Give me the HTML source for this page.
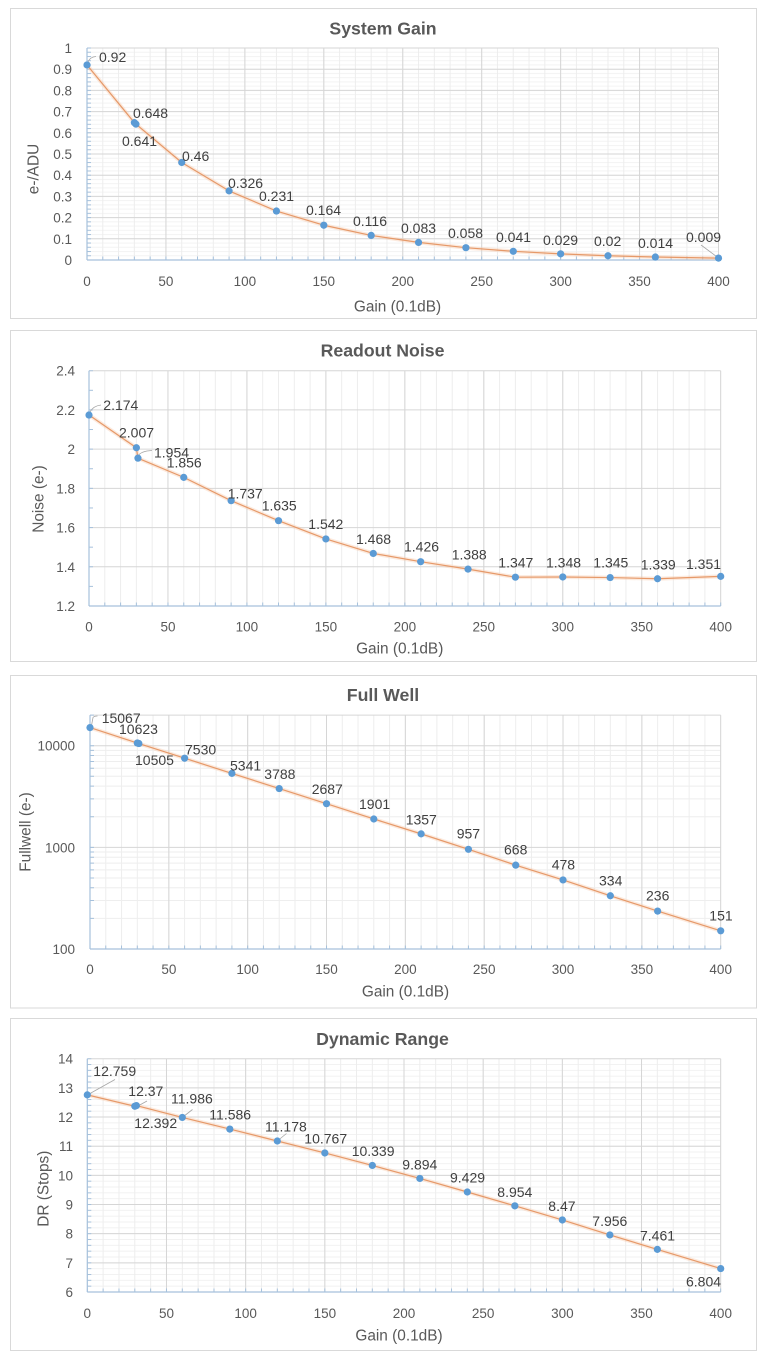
<!DOCTYPE html>
<html><head><meta charset="utf-8"><style>
html,body{margin:0;padding:0;background:#fff}
svg{display:block}
text{font-family:"Liberation Sans",Arial,sans-serif}
.t{font-size:17.7px;font-weight:bold;fill:#595959;text-anchor:middle}
.ax{font-size:15.4px;fill:#595959;text-anchor:middle}
.yk{font-size:13.5px;fill:#595959;text-anchor:end}
.xk{font-size:13.5px;fill:#595959;text-anchor:middle}
.dl{font-size:14px;fill:#404040}
.fr{fill:#fff;stroke:#d9d9d9;stroke-width:1}
.mj{stroke:#d6d6d6;stroke-width:1;fill:none}
.mn{stroke:#eeeeee;stroke-width:1;fill:none}
.axl{stroke:#a6c1dc;stroke-width:1.2;fill:none}
.ln{fill:none;stroke:#e3905c;stroke-width:1.2;stroke-opacity:.9;stroke-linejoin:round}
.lg{fill:none;stroke:#f8cbad;stroke-width:4;stroke-opacity:.4;stroke-linejoin:round}
.ld{stroke:#a6a6a6;stroke-width:.8;fill:none}
.mk circle{fill:#5b9bd5}
</style></head><body>
<svg width="768" height="1364" viewBox="0 0 768 1364" xmlns="http://www.w3.org/2000/svg">
<defs>
<pattern id="v1" patternUnits="userSpaceOnUse" x="86.5" y="0" width="15.7875" height="10"><rect width="1" height="10" fill="#ededed"/></pattern>
<pattern id="h1" patternUnits="userSpaceOnUse" x="0" y="47.5" width="10" height="4.24"><rect width="10" height="1" fill="#f3f3f3"/></pattern>
<pattern id="xt1" patternUnits="userSpaceOnUse" x="86.5" y="0" width="15.7875" height="10"><rect width="1" height="10" fill="#a6c1dc"/></pattern>
<pattern id="yt1" patternUnits="userSpaceOnUse" x="0" y="47.5" width="10" height="4.24"><rect width="10" height="1" fill="#a6c1dc"/></pattern>
<pattern id="v2" patternUnits="userSpaceOnUse" x="88.5" y="0" width="15.7925" height="10"><rect width="1" height="10" fill="#ededed"/></pattern>
<pattern id="xt2" patternUnits="userSpaceOnUse" x="88.5" y="0" width="15.7925" height="10"><rect width="1" height="10" fill="#a6c1dc"/></pattern>
<pattern id="yt2" patternUnits="userSpaceOnUse" x="0" y="370.2" width="10" height="19.608"><rect width="10" height="1" fill="#a6c1dc"/></pattern>
<pattern id="v3" patternUnits="userSpaceOnUse" x="89.5" y="0" width="15.7675" height="10"><rect width="1" height="10" fill="#ededed"/></pattern>
<pattern id="xt3" patternUnits="userSpaceOnUse" x="89.5" y="0" width="15.7675" height="10"><rect width="1" height="10" fill="#a6c1dc"/></pattern>
<pattern id="v4" patternUnits="userSpaceOnUse" x="86.8" y="0" width="15.835" height="10"><rect width="1" height="10" fill="#ededed"/></pattern>
<pattern id="h4" patternUnits="userSpaceOnUse" x="0" y="1058.2" width="10" height="5.8325"><rect width="10" height="1" fill="#f2f2f2"/></pattern>
<pattern id="xt4" patternUnits="userSpaceOnUse" x="86.8" y="0" width="15.835" height="10"><rect width="1" height="10" fill="#a6c1dc"/></pattern>
<pattern id="yt4" patternUnits="userSpaceOnUse" x="0" y="1058.2" width="10" height="5.8325"><rect width="10" height="1" fill="#a6c1dc"/></pattern>
</defs>

<!-- ================= CHART 1 ================= -->
<rect class="fr" x="10.5" y="8.5" width="746" height="310"/>
<text class="t" x="383" y="34.5">System Gain</text>
<rect x="87" y="48" width="631.5" height="212" fill="url(#h1)"/>
<rect x="87" y="48" width="631.5" height="212" fill="url(#v1)"/>
<path class="mj" d="M87 48H718.5M87 69.2H718.5M87 90.4H718.5M87 111.6H718.5M87 132.8H718.5M87 154H718.5M87 175.2H718.5M87 196.4H718.5M87 217.6H718.5M87 238.8H718.5
M165.94 48V260M244.88 48V260M323.81 48V260M402.75 48V260M481.69 48V260M560.63 48V260M639.56 48V260M718.5 48V260"/>
<rect x="86.5" y="256.5" width="633" height="3.5" fill="url(#xt1)"/>
<rect x="87" y="47.5" width="4" height="213" fill="url(#yt1)"/>
<path class="axl" d="M87 260H718.5M87 48V260"/>
<g class="yk">
<text x="72" y="265">0</text><text x="72" y="243.8">0.1</text><text x="72" y="222.6">0.2</text><text x="72" y="201.4">0.3</text><text x="72" y="180.2">0.4</text><text x="72" y="159">0.5</text><text x="72" y="137.8">0.6</text><text x="72" y="116.6">0.7</text><text x="72" y="95.4">0.8</text><text x="72" y="74.2">0.9</text><text x="72" y="53">1</text>
</g>
<g class="xk">
<text x="87" y="286">0</text><text x="165.94" y="286">50</text><text x="244.88" y="286">100</text><text x="323.81" y="286">150</text><text x="402.75" y="286">200</text><text x="481.69" y="286">250</text><text x="560.63" y="286">300</text><text x="639.56" y="286">350</text><text x="718.5" y="286">400</text>
</g>
<text class="ax" x="397.5" y="311.5">Gain (0.1dB)</text>
<text class="ax" transform="translate(38.5,169) rotate(-90)">e-/ADU</text>
<polyline class="lg" points="87,64.96 134.36,122.62 135.94,124.11 181.73,162.48 229.09,190.89 276.45,211.03 323.81,225.23 371.18,235.41 418.54,242.4 465.9,247.7 513.26,251.31 560.63,253.85 607.99,255.76 655.35,257.03 718.5,258.09"/>
<polyline class="ln" points="87,64.96 134.36,122.62 135.94,124.11 181.73,162.48 229.09,190.89 276.45,211.03 323.81,225.23 371.18,235.41 418.54,242.4 465.9,247.7 513.26,251.31 560.63,253.85 607.99,255.76 655.35,257.03 718.5,258.09"/>
<path class="ld" d="M88 62Q90 57 96 56.5M716.5 256.5L701 245"/>
<g class="mk">
<circle cx="87" cy="64.96" r="3.6"/><circle cx="134.36" cy="122.62" r="3.6"/><circle cx="135.94" cy="124.11" r="3.6"/><circle cx="181.73" cy="162.48" r="3.6"/><circle cx="229.09" cy="190.89" r="3.6"/><circle cx="276.45" cy="211.03" r="3.6"/><circle cx="323.81" cy="225.23" r="3.6"/><circle cx="371.18" cy="235.41" r="3.6"/><circle cx="418.54" cy="242.4" r="3.6"/><circle cx="465.9" cy="247.7" r="3.6"/><circle cx="513.26" cy="251.31" r="3.6"/><circle cx="560.63" cy="253.85" r="3.6"/><circle cx="607.99" cy="255.76" r="3.6"/><circle cx="655.35" cy="257.03" r="3.6"/><circle cx="718.5" cy="258.09" r="3.6"/>
</g>
<g class="dl">
<text x="99" y="62">0.92</text><text x="133" y="118">0.648</text><text x="122" y="146">0.641</text><text x="182" y="161">0.46</text><text x="228" y="188">0.326</text><text x="259" y="201">0.231</text><text x="306" y="215">0.164</text><text x="353" y="226">0.116</text><text x="401" y="233">0.083</text><text x="448" y="238">0.058</text><text x="496" y="242">0.041</text><text x="543" y="245">0.029</text><text x="594" y="246">0.02</text><text x="638" y="248">0.014</text><text x="686" y="242">0.009</text>
</g>

<!-- ================= CHART 2 ================= -->
<rect class="fr" x="10.5" y="330.5" width="746" height="331"/>
<text class="t" x="382.5" y="356.5">Readout Noise</text>
<rect x="89" y="370.7" width="631.7" height="235.3" fill="url(#v2)"/>
<path class="mj" d="M89 370.7H720.7M89 409.92H720.7M89 449.14H720.7M89 488.35H720.7M89 527.57H720.7M89 566.78H720.7
M167.96 370.7V606M246.93 370.7V606M325.89 370.7V606M404.85 370.7V606M483.81 370.7V606M562.78 370.7V606M641.74 370.7V606M720.7 370.7V606"/>
<rect x="88.5" y="602.5" width="633" height="3.5" fill="url(#xt2)"/>
<rect x="89" y="370.2" width="4" height="236" fill="url(#yt2)"/>
<path class="axl" d="M89 606H720.7M89 370.7V606"/>
<g class="yk">
<text x="75" y="611">1.2</text><text x="75" y="571.8">1.4</text><text x="75" y="532.6">1.6</text><text x="75" y="493.4">1.8</text><text x="75" y="454.1">2</text><text x="75" y="414.9">2.2</text><text x="75" y="375.7">2.4</text>
</g>
<g class="xk">
<text x="89" y="631.5">0</text><text x="167.96" y="631.5">50</text><text x="246.93" y="631.5">100</text><text x="325.89" y="631.5">150</text><text x="404.85" y="631.5">200</text><text x="483.81" y="631.5">250</text><text x="562.78" y="631.5">300</text><text x="641.74" y="631.5">350</text><text x="720.7" y="631.5">400</text>
</g>
<text class="ax" x="399.7" y="653.5">Gain (0.1dB)</text>
<text class="ax" transform="translate(43.5,499) rotate(-90)">Noise (e-)</text>
<polyline class="lg" points="89,415.02 136.38,447.76 137.96,458.16 183.76,477.37 231.13,500.71 278.51,520.71 325.89,538.94 373.27,553.45 420.64,561.69 468.02,569.14 515.4,577.18 562.78,576.98 610.15,577.57 657.53,578.74 720.7,576.39"/>
<polyline class="ln" points="89,415.02 136.38,447.76 137.96,458.16 183.76,477.37 231.13,500.71 278.51,520.71 325.89,538.94 373.27,553.45 420.64,561.69 468.02,569.14 515.4,577.18 562.78,576.98 610.15,577.57 657.53,578.74 720.7,576.39"/>
<path class="ld" d="M90 412Q93 406 101 405M138 456Q141 451 152 450.5"/>
<g class="mk">
<circle cx="89" cy="415.02" r="3.6"/><circle cx="136.38" cy="447.76" r="3.6"/><circle cx="137.96" cy="458.16" r="3.6"/><circle cx="183.76" cy="477.37" r="3.6"/><circle cx="231.13" cy="500.71" r="3.6"/><circle cx="278.51" cy="520.71" r="3.6"/><circle cx="325.89" cy="538.94" r="3.6"/><circle cx="373.27" cy="553.45" r="3.6"/><circle cx="420.64" cy="561.69" r="3.6"/><circle cx="468.02" cy="569.14" r="3.6"/><circle cx="515.4" cy="577.18" r="3.6"/><circle cx="562.78" cy="576.98" r="3.6"/><circle cx="610.15" cy="577.57" r="3.6"/><circle cx="657.53" cy="578.74" r="3.6"/><circle cx="720.7" cy="576.39" r="3.6"/>
</g>
<g class="dl">
<text x="103.3" y="410">2.174</text><text x="119" y="437.7">2.007</text><text x="154" y="457.7">1.954</text><text x="166.7" y="467.3">1.856</text><text x="227.7" y="498.3">1.737</text><text x="261.7" y="510.7">1.635</text><text x="308.3" y="529">1.542</text><text x="356" y="544">1.468</text><text x="404" y="551.7">1.426</text><text x="451.7" y="559.3">1.388</text><text x="498.3" y="567.7">1.347</text><text x="546" y="567.7">1.348</text><text x="593.3" y="567.7">1.345</text><text x="640.7" y="569.3">1.339</text><text x="686" y="569">1.351</text>
</g>

<!-- ================= CHART 3 ================= -->
<rect class="fr" x="10.5" y="675.5" width="746" height="332.5"/>
<text class="t" x="383" y="701">Full Well</text>
<rect x="90" y="715.1" width="630.7" height="233.9" fill="url(#v3)"/>
<path class="mn" d="M90 750.35H720.7M90 755.55H720.7M90 761.45H720.7M90 768.25H720.7M90 776.3H720.7M90 786.15H720.7M90 798.85H720.7M90 816.75H720.7
M90 852H720.7M90 857.2H720.7M90 863.1H720.7M90 869.9H720.7M90 877.95H720.7M90 887.8H720.7M90 900.5H720.7M90 918.4H720.7"/>
<path class="mj" d="M90 715.1H720.7M90 745.7H720.7M90 847.35H720.7
M168.84 715.1V949M247.68 715.1V949M326.51 715.1V949M405.35 715.1V949M484.19 715.1V949M563.03 715.1V949M641.86 715.1V949M720.7 715.1V949"/>
<rect x="89.5" y="945.5" width="632" height="3.5" fill="url(#xt3)"/>
<path class="axl" style="stroke-width:1" d="M90 715.1H94M90 745.7H94M90 750.35H94M90 755.55H94M90 761.45H94M90 768.25H94M90 776.3H94M90 786.15H94M90 798.85H94M90 816.75H94M90 847.35H94M90 852H94M90 857.2H94M90 863.1H94M90 869.9H94M90 877.95H94M90 887.8H94M90 900.5H94M90 918.4H94"/>
<path class="axl" d="M90 949H720.7M90 715.1V949"/>
<g class="yk">
<text x="75" y="954">100</text><text x="75" y="852.3">1000</text><text x="75" y="750.7">10000</text>
</g>
<g class="xk">
<text x="90" y="974">0</text><text x="168.84" y="974">50</text><text x="247.68" y="974">100</text><text x="326.51" y="974">150</text><text x="405.35" y="974">200</text><text x="484.19" y="974">250</text><text x="563.03" y="974">300</text><text x="641.86" y="974">350</text><text x="720.7" y="974">400</text>
</g>
<text class="ax" x="405.5" y="996.5">Gain (0.1dB)</text>
<text class="ax" transform="translate(30.5,832) rotate(-90)">Fullwell (e-)</text>
<polyline class="lg" points="90,727.6 137.3,743.03 138.88,743.52 184.61,758.22 231.91,773.39 279.21,788.56 326.51,803.71 373.82,818.99 421.12,833.87 468.42,849.29 515.72,865.16 563.03,879.94 610.33,895.76 657.63,911.09 720.7,930.81"/>
<polyline class="ln" points="90,727.6 137.3,743.03 138.88,743.52 184.61,758.22 231.91,773.39 279.21,788.56 326.51,803.71 373.82,818.99 421.12,833.87 468.42,849.29 515.72,865.16 563.03,879.94 610.33,895.76 657.63,911.09 720.7,930.81"/>
<path class="ld" d="M91.5 725.5L93 717.5Q94 716 97.5 716"/>
<g class="mk">
<circle cx="90" cy="727.6" r="3.6"/><circle cx="137.3" cy="743.03" r="3.6"/><circle cx="138.88" cy="743.52" r="3.6"/><circle cx="184.61" cy="758.22" r="3.6"/><circle cx="231.91" cy="773.39" r="3.6"/><circle cx="279.21" cy="788.56" r="3.6"/><circle cx="326.51" cy="803.71" r="3.6"/><circle cx="373.82" cy="818.99" r="3.6"/><circle cx="421.12" cy="833.87" r="3.6"/><circle cx="468.42" cy="849.29" r="3.6"/><circle cx="515.72" cy="865.16" r="3.6"/><circle cx="563.03" cy="879.94" r="3.6"/><circle cx="610.33" cy="895.76" r="3.6"/><circle cx="657.63" cy="911.09" r="3.6"/><circle cx="720.7" cy="930.81" r="3.6"/>
</g>
<g class="dl">
<text x="101.7" y="723">15067</text><text x="119" y="734">10623</text><text x="135" y="765">10505</text><text x="185" y="754.7">7530</text><text x="230" y="770.7">5341</text><text x="264.3" y="779">3788</text><text x="311.7" y="794">2687</text><text x="359" y="809">1901</text><text x="405.7" y="824.7">1357</text><text x="456.7" y="838.7">957</text><text x="504" y="854.7">668</text><text x="551.7" y="869.7">478</text><text x="599" y="885.3">334</text><text x="646" y="900.7">236</text><text x="709.3" y="920.3">151</text>
</g>

<!-- ================= CHART 4 ================= -->
<rect class="fr" x="10.5" y="1018.5" width="746" height="332"/>
<text class="t" x="382.5" y="1045">Dynamic Range</text>
<rect x="87.3" y="1058.7" width="633.4" height="233.3" fill="url(#h4)"/>
<rect x="87.3" y="1058.7" width="633.4" height="233.3" fill="url(#v4)"/>
<path class="mj" d="M87.3 1058.7H720.7M87.3 1087.86H720.7M87.3 1117.03H720.7M87.3 1146.19H720.7M87.3 1175.35H720.7M87.3 1204.51H720.7M87.3 1233.68H720.7M87.3 1262.84H720.7
M166.48 1058.7V1292M245.65 1058.7V1292M324.83 1058.7V1292M404 1058.7V1292M483.18 1058.7V1292M562.35 1058.7V1292M641.53 1058.7V1292M720.7 1058.7V1292"/>
<rect x="86.8" y="1288.5" width="634.5" height="3.5" fill="url(#xt4)"/>
<rect x="87.3" y="1058.2" width="4" height="234.3" fill="url(#yt4)"/>
<path class="axl" d="M87.3 1292H720.7M87.3 1058.7V1292"/>
<g class="yk">
<text x="73" y="1297">6</text><text x="73" y="1267.8">7</text><text x="73" y="1238.7">8</text><text x="73" y="1209.5">9</text><text x="73" y="1180.4">10</text><text x="73" y="1151.2">11</text><text x="73" y="1122">12</text><text x="73" y="1092.9">13</text><text x="73" y="1063.7">14</text>
</g>
<g class="xk">
<text x="87.3" y="1318">0</text><text x="166.48" y="1318">50</text><text x="245.65" y="1318">100</text><text x="324.83" y="1318">150</text><text x="404" y="1318">200</text><text x="483.18" y="1318">250</text><text x="562.35" y="1318">300</text><text x="641.53" y="1318">350</text><text x="720.7" y="1318">400</text>
</g>
<text class="ax" x="399" y="1340.5">Gain (0.1dB)</text>
<text class="ax" transform="translate(48.5,1188.7) rotate(-90)">DR (Stops)</text>
<polyline class="lg" points="87.3,1094.89 134.81,1106.23 136.39,1105.59 182.31,1117.43 229.82,1129.1 277.32,1141 324.83,1152.98 372.33,1165.46 419.84,1178.44 467.34,1192 514.85,1205.85 562.35,1219.97 609.86,1234.96 657.36,1249.39 720.7,1268.55"/>
<polyline class="ln" points="87.3,1094.89 134.81,1106.23 136.39,1105.59 182.31,1117.43 229.82,1129.1 277.32,1141 324.83,1152.98 372.33,1165.46 419.84,1178.44 467.34,1192 514.85,1205.85 562.35,1219.97 609.86,1234.96 657.36,1249.39 720.7,1268.55"/>
<path class="ld" d="M90 1093.5L115 1079.5M137 1106.5L147 1101M183.5 1116.5L192.5 1109.5M278.5 1140L286.5 1133.5"/>
<g class="mk">
<circle cx="87.3" cy="1094.89" r="3.6"/><circle cx="134.81" cy="1106.23" r="3.6"/><circle cx="136.39" cy="1105.59" r="3.6"/><circle cx="182.31" cy="1117.43" r="3.6"/><circle cx="229.82" cy="1129.1" r="3.6"/><circle cx="277.32" cy="1141" r="3.6"/><circle cx="324.83" cy="1152.98" r="3.6"/><circle cx="372.33" cy="1165.46" r="3.6"/><circle cx="419.84" cy="1178.44" r="3.6"/><circle cx="467.34" cy="1192" r="3.6"/><circle cx="514.85" cy="1205.85" r="3.6"/><circle cx="562.35" cy="1219.97" r="3.6"/><circle cx="609.86" cy="1234.96" r="3.6"/><circle cx="657.36" cy="1249.39" r="3.6"/><circle cx="720.7" cy="1268.55" r="3.6"/>
</g>
<g class="dl">
<text x="93.3" y="1076">12.759</text><text x="128.3" y="1096">12.37</text><text x="134.3" y="1128">12.392</text><text x="171" y="1103.7">11.986</text><text x="209.3" y="1119.7">11.586</text><text x="265" y="1131.3">11.178</text><text x="304.3" y="1143.7">10.767</text><text x="351.7" y="1156">10.339</text><text x="402.3" y="1169.3">9.894</text><text x="450" y="1182.7">9.429</text><text x="497.3" y="1197">8.954</text><text x="548.3" y="1211">8.47</text><text x="592.3" y="1226">7.956</text><text x="640" y="1240.3">7.461</text><text x="686" y="1286.3">6.804</text>
</g>
</svg>
</body></html>
